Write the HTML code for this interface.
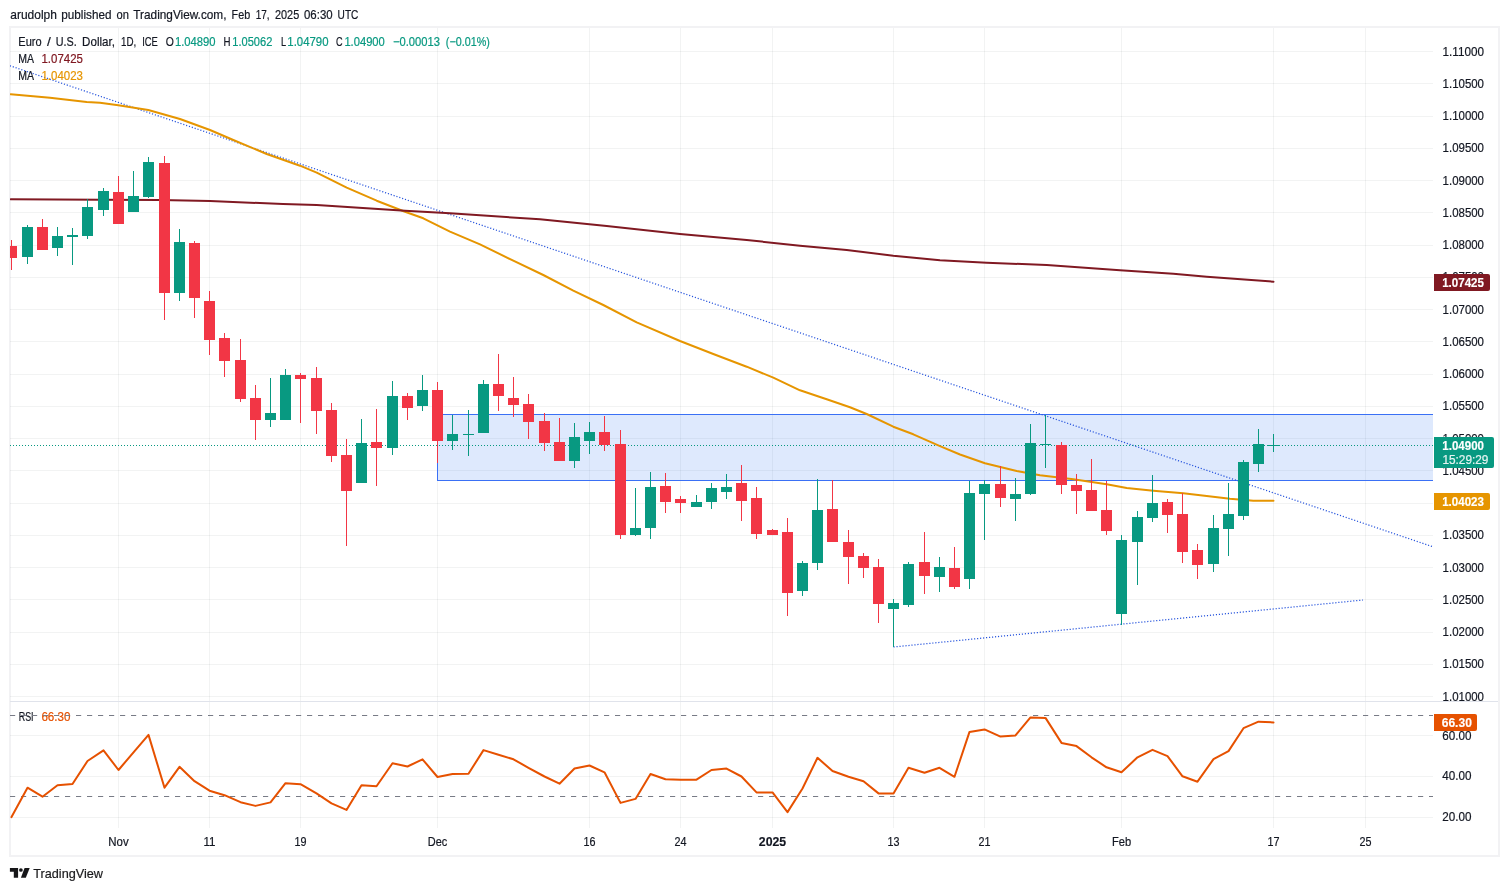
<!DOCTYPE html>
<html lang="en"><head><meta charset="utf-8"><title>EURUSD chart</title>
<style>html,body{margin:0;padding:0;background:#fff;}body{width:1509px;height:891px;overflow:hidden;}svg{display:block;font-family:'Liberation Sans', sans-serif;}</style>
</head><body>
<svg width="1509" height="891" viewBox="0 0 1509 891">
<rect x="0" y="0" width="1509" height="891" fill="#ffffff"/>
<text y="18.7" font-size="12.2" font-weight="normal" stroke-width="0.2"><tspan x="10.3" textLength="46.6" lengthAdjust="spacingAndGlyphs" fill="#131722" stroke="#131722">arudolph</tspan> <tspan x="61.3" textLength="50.2" lengthAdjust="spacingAndGlyphs" fill="#131722" stroke="#131722">published</tspan> <tspan x="116.5" textLength="12.4" lengthAdjust="spacingAndGlyphs" fill="#131722" stroke="#131722">on</tspan> <tspan x="133.3" textLength="93.2" lengthAdjust="spacingAndGlyphs" fill="#131722" stroke="#131722">TradingView.com,</tspan> <tspan x="231.6" textLength="18.6" lengthAdjust="spacingAndGlyphs" fill="#131722" stroke="#131722">Feb</tspan> <tspan x="255.8" textLength="13.8" lengthAdjust="spacingAndGlyphs" fill="#131722" stroke="#131722">17,</tspan> <tspan x="275.0" textLength="24.2" lengthAdjust="spacingAndGlyphs" fill="#131722" stroke="#131722">2025</tspan> <tspan x="304.0" textLength="28.6" lengthAdjust="spacingAndGlyphs" fill="#131722" stroke="#131722">06:30</tspan> <tspan x="337.6" textLength="20.8" lengthAdjust="spacingAndGlyphs" fill="#131722" stroke="#131722">UTC</tspan></text>
<rect x="10" y="27" width="1489" height="829" fill="none" stroke="#f2f2f4" stroke-width="2"/>
<defs>
<clipPath id="cm"><rect x="10" y="28" width="1423" height="673"/></clipPath>
<clipPath id="cr"><rect x="10" y="702" width="1423" height="127"/></clipPath>
</defs>
<g fill="rgba(40,46,50,0.058)" shape-rendering="crispEdges">
<rect x="118" y="28" width="1" height="800"/>
<rect x="209" y="28" width="1" height="800"/>
<rect x="300" y="28" width="1" height="800"/>
<rect x="437" y="28" width="1" height="800"/>
<rect x="589" y="28" width="1" height="800"/>
<rect x="680" y="28" width="1" height="800"/>
<rect x="772" y="28" width="1" height="800"/>
<rect x="893" y="28" width="1" height="800"/>
<rect x="984" y="28" width="1" height="800"/>
<rect x="1121" y="28" width="1" height="800"/>
<rect x="1273" y="28" width="1" height="800"/>
<rect x="1365" y="28" width="1" height="800"/>
<rect x="10" y="51" width="1423" height="1"/>
<rect x="10" y="83" width="1423" height="1"/>
<rect x="10" y="116" width="1423" height="1"/>
<rect x="10" y="148" width="1423" height="1"/>
<rect x="10" y="180" width="1423" height="1"/>
<rect x="10" y="212" width="1423" height="1"/>
<rect x="10" y="245" width="1423" height="1"/>
<rect x="10" y="277" width="1423" height="1"/>
<rect x="10" y="309" width="1423" height="1"/>
<rect x="10" y="341" width="1423" height="1"/>
<rect x="10" y="374" width="1423" height="1"/>
<rect x="10" y="406" width="1423" height="1"/>
<rect x="10" y="438" width="1423" height="1"/>
<rect x="10" y="470" width="1423" height="1"/>
<rect x="10" y="503" width="1423" height="1"/>
<rect x="10" y="535" width="1423" height="1"/>
<rect x="10" y="567" width="1423" height="1"/>
<rect x="10" y="599" width="1423" height="1"/>
<rect x="10" y="632" width="1423" height="1"/>
<rect x="10" y="664" width="1423" height="1"/>
<rect x="10" y="696" width="1423" height="1"/>
<rect x="10" y="735" width="1423" height="1"/>
<rect x="10" y="776" width="1423" height="1"/>
<rect x="10" y="817" width="1423" height="1"/>
</g>
<rect x="10" y="701" width="1488" height="1" fill="#e0e3eb" shape-rendering="crispEdges"/>
<g clip-path="url(#cm)">
<rect x="437.5" y="414.5" width="1010" height="66" fill="rgba(49,121,245,0.16)" stroke="#3a70f5" stroke-width="1"/>
<line x1="-10" y1="59" x2="1433" y2="546.8" stroke="#2452dc" stroke-width="1.25" stroke-dasharray="1.15 1.85"/>
<line x1="893.5" y1="647" x2="1363" y2="600" stroke="#2452dc" stroke-width="1.25" stroke-dasharray="1.15 1.85"/>
<line x1="10" y1="445.5" x2="1433" y2="445.5" stroke="#089981" stroke-width="1" stroke-dasharray="1 2" shape-rendering="crispEdges"/>
<polyline points="10.7,94.3 50.0,97.7 86.7,102.0 100.0,102.7 118.3,105.3 148.3,110.0 180.0,119.0 210.0,130.0 233.3,140.0 266.7,154.0 300.0,165.7 316.7,172.7 346.7,187.7 376.7,200.7 405.0,211.7 423.3,218.3 450.0,231.7 480.0,244.3 513.3,260.7 543.3,275.0 573.3,290.7 603.3,305.0 636.7,322.3 680.0,341.0 713.3,354.0 746.7,366.7 773.3,377.7 800.0,390.3 826.7,399.3 850.0,407.3 866.7,414.0 893.3,426.7 913.3,434.3 940.0,446.2 960.0,454.5 985.0,463.3 1016.7,471.0 1040.0,475.3 1073.3,479.3 1106.7,484.3 1126.7,488.0 1153.3,490.7 1183.3,493.3 1206.7,496.0 1230.0,498.7 1253.3,500.7 1273.5,500.8" fill="none" stroke="#e69500" stroke-width="2" stroke-linejoin="round" stroke-linecap="round"/>
<polyline points="10.7,199.3 100.0,199.7 160.0,200.0 210.0,201.0 283.0,204.0 316.7,205.0 366.7,208.3 405.0,210.7 450.0,213.3 480.0,215.3 540.0,219.3 606.7,226.0 680.0,234.0 746.7,240.0 800.0,245.7 846.7,250.0 893.3,255.7 940.0,260.2 986.7,262.7 1046.7,265.0 1120.0,270.3 1173.3,273.7 1206.7,276.7 1273.5,281.7" fill="none" stroke="#801922" stroke-width="2" stroke-linejoin="round" stroke-linecap="round"/>
<g shape-rendering="crispEdges">
<rect x="11" y="240" width="1" height="30" fill="#f23645"/>
<rect x="6" y="246" width="11" height="12" fill="#f23645"/>
<rect x="27" y="225" width="1" height="39" fill="#089981"/>
<rect x="22" y="227" width="11" height="30" fill="#089981"/>
<rect x="42" y="219" width="1" height="31" fill="#f23645"/>
<rect x="37" y="227" width="11" height="23" fill="#f23645"/>
<rect x="57" y="227" width="1" height="29" fill="#089981"/>
<rect x="52" y="236" width="11" height="12" fill="#089981"/>
<rect x="72" y="228" width="1" height="37" fill="#089981"/>
<rect x="67" y="235" width="11" height="2" fill="#089981"/>
<rect x="87" y="199" width="1" height="40" fill="#089981"/>
<rect x="82" y="207" width="11" height="29" fill="#089981"/>
<rect x="103" y="188" width="1" height="28" fill="#089981"/>
<rect x="98" y="191" width="11" height="19" fill="#089981"/>
<rect x="118" y="176" width="1" height="48" fill="#f23645"/>
<rect x="113" y="192" width="11" height="32" fill="#f23645"/>
<rect x="133" y="171" width="1" height="41" fill="#089981"/>
<rect x="128" y="196" width="11" height="16" fill="#089981"/>
<rect x="148" y="157" width="1" height="41" fill="#089981"/>
<rect x="143" y="162" width="11" height="35" fill="#089981"/>
<rect x="164" y="156" width="1" height="164" fill="#f23645"/>
<rect x="159" y="163" width="11" height="130" fill="#f23645"/>
<rect x="179" y="229" width="1" height="72" fill="#089981"/>
<rect x="174" y="242" width="11" height="51" fill="#089981"/>
<rect x="194" y="241" width="1" height="77" fill="#f23645"/>
<rect x="189" y="243" width="11" height="55" fill="#f23645"/>
<rect x="209" y="291" width="1" height="64" fill="#f23645"/>
<rect x="204" y="301" width="11" height="39" fill="#f23645"/>
<rect x="224" y="333" width="1" height="44" fill="#f23645"/>
<rect x="219" y="338" width="11" height="23" fill="#f23645"/>
<rect x="240" y="339" width="1" height="63" fill="#f23645"/>
<rect x="235" y="360" width="11" height="39" fill="#f23645"/>
<rect x="255" y="385" width="1" height="55" fill="#f23645"/>
<rect x="250" y="398" width="11" height="22" fill="#f23645"/>
<rect x="270" y="378" width="1" height="49" fill="#089981"/>
<rect x="265" y="413" width="11" height="7" fill="#089981"/>
<rect x="285" y="369" width="1" height="51" fill="#089981"/>
<rect x="280" y="375" width="11" height="45" fill="#089981"/>
<rect x="300" y="373" width="1" height="50" fill="#f23645"/>
<rect x="295" y="375" width="11" height="4" fill="#f23645"/>
<rect x="316" y="367" width="1" height="67" fill="#f23645"/>
<rect x="311" y="378" width="11" height="33" fill="#f23645"/>
<rect x="331" y="403" width="1" height="59" fill="#f23645"/>
<rect x="326" y="410" width="11" height="46" fill="#f23645"/>
<rect x="346" y="439" width="1" height="107" fill="#f23645"/>
<rect x="341" y="455" width="11" height="36" fill="#f23645"/>
<rect x="361" y="419" width="1" height="64" fill="#089981"/>
<rect x="356" y="443" width="11" height="40" fill="#089981"/>
<rect x="376" y="409" width="1" height="77" fill="#f23645"/>
<rect x="371" y="442" width="11" height="6" fill="#f23645"/>
<rect x="392" y="381" width="1" height="74" fill="#089981"/>
<rect x="387" y="396" width="11" height="52" fill="#089981"/>
<rect x="407" y="393" width="1" height="27" fill="#f23645"/>
<rect x="402" y="396" width="11" height="12" fill="#f23645"/>
<rect x="422" y="375" width="1" height="36" fill="#089981"/>
<rect x="417" y="390" width="11" height="16" fill="#089981"/>
<rect x="437" y="382" width="1" height="81" fill="#f23645"/>
<rect x="432" y="390" width="11" height="51" fill="#f23645"/>
<rect x="452" y="415" width="1" height="35" fill="#089981"/>
<rect x="447" y="434" width="11" height="7" fill="#089981"/>
<rect x="468" y="410" width="1" height="46" fill="#089981"/>
<rect x="463" y="434" width="11" height="1" fill="#089981"/>
<rect x="483" y="380" width="1" height="53" fill="#089981"/>
<rect x="478" y="384" width="11" height="49" fill="#089981"/>
<rect x="498" y="354" width="1" height="57" fill="#f23645"/>
<rect x="493" y="384" width="11" height="12" fill="#f23645"/>
<rect x="513" y="377" width="1" height="40" fill="#f23645"/>
<rect x="508" y="398" width="11" height="7" fill="#f23645"/>
<rect x="528" y="394" width="1" height="45" fill="#f23645"/>
<rect x="523" y="404" width="11" height="18" fill="#f23645"/>
<rect x="544" y="413" width="1" height="38" fill="#f23645"/>
<rect x="539" y="421" width="11" height="22" fill="#f23645"/>
<rect x="559" y="418" width="1" height="43" fill="#f23645"/>
<rect x="554" y="442" width="11" height="19" fill="#f23645"/>
<rect x="574" y="423" width="1" height="45" fill="#089981"/>
<rect x="569" y="437" width="11" height="24" fill="#089981"/>
<rect x="589" y="422" width="1" height="32" fill="#089981"/>
<rect x="584" y="432" width="11" height="9" fill="#089981"/>
<rect x="604" y="416" width="1" height="35" fill="#f23645"/>
<rect x="599" y="432" width="11" height="13" fill="#f23645"/>
<rect x="620" y="430" width="1" height="109" fill="#f23645"/>
<rect x="615" y="444" width="11" height="91" fill="#f23645"/>
<rect x="635" y="488" width="1" height="48" fill="#089981"/>
<rect x="630" y="528" width="11" height="7" fill="#089981"/>
<rect x="650" y="472" width="1" height="67" fill="#089981"/>
<rect x="645" y="487" width="11" height="41" fill="#089981"/>
<rect x="665" y="473" width="1" height="40" fill="#f23645"/>
<rect x="660" y="486" width="11" height="16" fill="#f23645"/>
<rect x="680" y="496" width="1" height="17" fill="#f23645"/>
<rect x="675" y="499" width="11" height="4" fill="#f23645"/>
<rect x="696" y="495" width="1" height="12" fill="#089981"/>
<rect x="691" y="502" width="11" height="5" fill="#089981"/>
<rect x="711" y="483" width="1" height="26" fill="#089981"/>
<rect x="706" y="488" width="11" height="14" fill="#089981"/>
<rect x="726" y="474" width="1" height="25" fill="#089981"/>
<rect x="721" y="487" width="11" height="5" fill="#089981"/>
<rect x="741" y="465" width="1" height="56" fill="#f23645"/>
<rect x="736" y="483" width="11" height="18" fill="#f23645"/>
<rect x="756" y="487" width="1" height="52" fill="#f23645"/>
<rect x="751" y="498" width="11" height="36" fill="#f23645"/>
<rect x="772" y="529" width="1" height="6" fill="#f23645"/>
<rect x="767" y="530" width="11" height="5" fill="#f23645"/>
<rect x="787" y="518" width="1" height="98" fill="#f23645"/>
<rect x="782" y="532" width="11" height="61" fill="#f23645"/>
<rect x="802" y="561" width="1" height="35" fill="#089981"/>
<rect x="797" y="563" width="11" height="28" fill="#089981"/>
<rect x="817" y="479" width="1" height="91" fill="#089981"/>
<rect x="812" y="510" width="11" height="53" fill="#089981"/>
<rect x="832" y="480" width="1" height="62" fill="#f23645"/>
<rect x="827" y="509" width="11" height="33" fill="#f23645"/>
<rect x="848" y="530" width="1" height="54" fill="#f23645"/>
<rect x="843" y="542" width="11" height="15" fill="#f23645"/>
<rect x="863" y="553" width="1" height="25" fill="#f23645"/>
<rect x="858" y="556" width="11" height="12" fill="#f23645"/>
<rect x="878" y="559" width="1" height="64" fill="#f23645"/>
<rect x="873" y="567" width="11" height="37" fill="#f23645"/>
<rect x="893" y="599" width="1" height="48" fill="#089981"/>
<rect x="888" y="603" width="11" height="6" fill="#089981"/>
<rect x="908" y="562" width="1" height="45" fill="#089981"/>
<rect x="903" y="564" width="11" height="41" fill="#089981"/>
<rect x="924" y="532" width="1" height="62" fill="#f23645"/>
<rect x="919" y="562" width="11" height="14" fill="#f23645"/>
<rect x="939" y="557" width="1" height="35" fill="#089981"/>
<rect x="934" y="567" width="11" height="10" fill="#089981"/>
<rect x="954" y="547" width="1" height="42" fill="#f23645"/>
<rect x="949" y="568" width="11" height="19" fill="#f23645"/>
<rect x="969" y="481" width="1" height="108" fill="#089981"/>
<rect x="964" y="493" width="11" height="86" fill="#089981"/>
<rect x="984" y="480" width="1" height="60" fill="#089981"/>
<rect x="979" y="484" width="11" height="10" fill="#089981"/>
<rect x="1000" y="466" width="1" height="41" fill="#f23645"/>
<rect x="995" y="484" width="11" height="14" fill="#f23645"/>
<rect x="1015" y="478" width="1" height="43" fill="#089981"/>
<rect x="1010" y="494" width="11" height="5" fill="#089981"/>
<rect x="1030" y="424" width="1" height="71" fill="#089981"/>
<rect x="1025" y="443" width="11" height="51" fill="#089981"/>
<rect x="1045" y="415" width="1" height="53" fill="#089981"/>
<rect x="1040" y="444" width="11" height="1" fill="#089981"/>
<rect x="1061" y="442" width="1" height="52" fill="#f23645"/>
<rect x="1056" y="445" width="11" height="40" fill="#f23645"/>
<rect x="1076" y="474" width="1" height="40" fill="#f23645"/>
<rect x="1071" y="485" width="11" height="6" fill="#f23645"/>
<rect x="1091" y="459" width="1" height="52" fill="#f23645"/>
<rect x="1086" y="490" width="11" height="21" fill="#f23645"/>
<rect x="1106" y="481" width="1" height="54" fill="#f23645"/>
<rect x="1101" y="510" width="11" height="21" fill="#f23645"/>
<rect x="1121" y="535" width="1" height="90" fill="#089981"/>
<rect x="1116" y="540" width="11" height="74" fill="#089981"/>
<rect x="1137" y="511" width="1" height="74" fill="#089981"/>
<rect x="1132" y="517" width="11" height="25" fill="#089981"/>
<rect x="1152" y="475" width="1" height="47" fill="#089981"/>
<rect x="1147" y="503" width="11" height="15" fill="#089981"/>
<rect x="1167" y="499" width="1" height="34" fill="#f23645"/>
<rect x="1162" y="502" width="11" height="13" fill="#f23645"/>
<rect x="1182" y="493" width="1" height="70" fill="#f23645"/>
<rect x="1177" y="514" width="11" height="38" fill="#f23645"/>
<rect x="1197" y="544" width="1" height="35" fill="#f23645"/>
<rect x="1192" y="550" width="11" height="15" fill="#f23645"/>
<rect x="1213" y="515" width="1" height="57" fill="#089981"/>
<rect x="1208" y="528" width="11" height="36" fill="#089981"/>
<rect x="1228" y="483" width="1" height="73" fill="#089981"/>
<rect x="1223" y="514" width="11" height="15" fill="#089981"/>
<rect x="1243" y="460" width="1" height="60" fill="#089981"/>
<rect x="1238" y="462" width="11" height="54" fill="#089981"/>
<rect x="1258" y="429" width="1" height="43" fill="#089981"/>
<rect x="1253" y="444" width="11" height="20" fill="#089981"/>
<rect x="1273" y="434" width="1" height="18" fill="#089981"/>
<rect x="1268" y="445" width="11" height="1" fill="#089981"/>
</g>
</g>
<text y="45.9" font-size="12.2" font-weight="normal" stroke-width="0.2"><tspan x="18.3" textLength="23.3" lengthAdjust="spacingAndGlyphs" fill="#131722" stroke="#131722">Euro</tspan> <tspan x="47.1" textLength="3.8" lengthAdjust="spacingAndGlyphs" fill="#131722" stroke="#131722">/</tspan> <tspan x="55.7" textLength="21.0" lengthAdjust="spacingAndGlyphs" fill="#131722" stroke="#131722">U.S.</tspan> <tspan x="82.1" textLength="32.8" lengthAdjust="spacingAndGlyphs" fill="#131722" stroke="#131722">Dollar,</tspan> <tspan x="121.0" textLength="15.2" lengthAdjust="spacingAndGlyphs" fill="#131722" stroke="#131722">1D,</tspan> <tspan x="142.2" textLength="15.7" lengthAdjust="spacingAndGlyphs" fill="#131722" stroke="#131722">ICE</tspan> <tspan x="165.8" textLength="8.1" lengthAdjust="spacingAndGlyphs" fill="#131722" stroke="#131722">O</tspan> <tspan x="175.0" textLength="40.6" lengthAdjust="spacingAndGlyphs" fill="#089981" stroke="#089981">1.04890</tspan> <tspan x="223.6" textLength="7.0" lengthAdjust="spacingAndGlyphs" fill="#131722" stroke="#131722">H</tspan> <tspan x="232.3" textLength="40.0" lengthAdjust="spacingAndGlyphs" fill="#089981" stroke="#089981">1.05062</tspan> <tspan x="281.0" textLength="4.8" lengthAdjust="spacingAndGlyphs" fill="#131722" stroke="#131722">L</tspan> <tspan x="287.3" textLength="41.2" lengthAdjust="spacingAndGlyphs" fill="#089981" stroke="#089981">1.04790</tspan> <tspan x="336.0" textLength="6.6" lengthAdjust="spacingAndGlyphs" fill="#131722" stroke="#131722">C</tspan> <tspan x="344.4" textLength="40.4" lengthAdjust="spacingAndGlyphs" fill="#089981" stroke="#089981">1.04900</tspan> <tspan x="392.9" textLength="47.1" lengthAdjust="spacingAndGlyphs" fill="#089981" stroke="#089981">−0.00013</tspan> <tspan x="445.8" textLength="44.0" lengthAdjust="spacingAndGlyphs" fill="#089981" stroke="#089981">(−0.01%)</tspan></text>
<text y="62.7" font-size="12.2" font-weight="normal" stroke-width="0.2"><tspan x="18.3" textLength="15.2" lengthAdjust="spacingAndGlyphs" fill="#131722" stroke="#131722">MA</tspan> <tspan x="41.5" textLength="41.4" lengthAdjust="spacingAndGlyphs" fill="#801922" stroke="#801922">1.07425</tspan></text>
<text y="79.5" font-size="12.2" font-weight="normal" stroke-width="0.2"><tspan x="18.3" textLength="15.2" lengthAdjust="spacingAndGlyphs" fill="#131722" stroke="#131722">MA</tspan> <tspan x="41.5" textLength="41.4" lengthAdjust="spacingAndGlyphs" fill="#e69500" stroke="#e69500">1.04023</tspan></text>
<g clip-path="url(#cr)">
<text x="18.7" y="721.3" font-size="12" fill="#131722" font-weight="normal" text-anchor="start" textLength="14.9" lengthAdjust="spacingAndGlyphs" stroke="#131722" stroke-width="0.2">RSI</text>
<text x="41.4" y="721.3" font-size="12" fill="#e65100" font-weight="normal" text-anchor="start" textLength="29.1" lengthAdjust="spacingAndGlyphs" stroke="#e65100" stroke-width="0.2">66.30</text>
<line x1="10" y1="715.5" x2="1433" y2="715.5" stroke="#787b86" stroke-width="1" stroke-dasharray="5.2 5.8"/>
<line x1="10" y1="796.5" x2="1433" y2="796.5" stroke="#787b86" stroke-width="1" stroke-dasharray="5.2 5.8"/>
<polyline points="11.5,817.1 27.5,787.7 42.5,796.7 57.5,785.2 72.5,784.0 87.5,761.0 103.5,750.3 118.5,770.0 133.5,752.3 148.5,734.9 164.5,787.7 179.5,766.8 194.5,781.2 209.5,790.7 224.5,795.2 240.5,802.2 255.5,805.9 270.5,802.4 285.5,783.2 300.5,784.2 316.5,793.4 331.5,803.4 346.5,809.9 361.5,785.2 376.5,786.2 392.5,763.3 407.5,766.5 422.5,759.3 437.5,777.0 452.5,774.0 468.5,773.8 483.5,750.1 498.5,754.8 513.5,759.3 528.5,767.8 544.5,776.5 559.5,783.7 574.5,768.5 589.5,765.5 604.5,772.3 620.5,802.9 635.5,798.9 650.5,774.0 665.5,779.2 680.5,779.7 696.5,779.7 711.5,770.0 726.5,768.6 741.5,776.5 756.5,792.4 772.5,792.4 787.5,812.1 802.5,788.5 817.5,757.8 832.5,771.0 848.5,776.8 863.5,781.2 878.5,793.4 893.5,793.4 908.5,767.8 924.5,772.8 939.5,767.8 954.5,776.8 969.5,731.9 984.5,729.4 1000.5,736.6 1015.5,735.4 1030.5,717.4 1045.5,717.9 1061.5,742.9 1076.5,746.1 1091.5,757.3 1106.5,767.3 1121.5,772.3 1137.5,757.3 1152.5,749.8 1167.5,756.1 1182.5,776.3 1197.5,781.7 1213.5,759.1 1228.5,751.1 1243.5,728.2 1258.5,721.7 1273.5,722.4" fill="none" stroke="#e65100" stroke-width="2" stroke-linejoin="round" stroke-linecap="round"/>
</g>
<text x="1442.6" y="55.9" font-size="12.5" fill="#131722" font-weight="normal" text-anchor="start" textLength="41.4" lengthAdjust="spacingAndGlyphs" stroke="#131722" stroke-width="0.2">1.11000</text>
<text x="1442.6" y="87.9" font-size="12.5" fill="#131722" font-weight="normal" text-anchor="start" textLength="41.4" lengthAdjust="spacingAndGlyphs" stroke="#131722" stroke-width="0.2">1.10500</text>
<text x="1442.6" y="119.9" font-size="12.5" fill="#131722" font-weight="normal" text-anchor="start" textLength="41.4" lengthAdjust="spacingAndGlyphs" stroke="#131722" stroke-width="0.2">1.10000</text>
<text x="1442.6" y="151.9" font-size="12.5" fill="#131722" font-weight="normal" text-anchor="start" textLength="41.4" lengthAdjust="spacingAndGlyphs" stroke="#131722" stroke-width="0.2">1.09500</text>
<text x="1442.6" y="184.9" font-size="12.5" fill="#131722" font-weight="normal" text-anchor="start" textLength="41.4" lengthAdjust="spacingAndGlyphs" stroke="#131722" stroke-width="0.2">1.09000</text>
<text x="1442.6" y="216.9" font-size="12.5" fill="#131722" font-weight="normal" text-anchor="start" textLength="41.4" lengthAdjust="spacingAndGlyphs" stroke="#131722" stroke-width="0.2">1.08500</text>
<text x="1442.6" y="248.9" font-size="12.5" fill="#131722" font-weight="normal" text-anchor="start" textLength="41.4" lengthAdjust="spacingAndGlyphs" stroke="#131722" stroke-width="0.2">1.08000</text>
<text x="1442.6" y="280.9" font-size="12.5" fill="#131722" font-weight="normal" text-anchor="start" textLength="41.4" lengthAdjust="spacingAndGlyphs" stroke="#131722" stroke-width="0.2">1.07500</text>
<text x="1442.6" y="313.9" font-size="12.5" fill="#131722" font-weight="normal" text-anchor="start" textLength="41.4" lengthAdjust="spacingAndGlyphs" stroke="#131722" stroke-width="0.2">1.07000</text>
<text x="1442.6" y="345.9" font-size="12.5" fill="#131722" font-weight="normal" text-anchor="start" textLength="41.4" lengthAdjust="spacingAndGlyphs" stroke="#131722" stroke-width="0.2">1.06500</text>
<text x="1442.6" y="377.9" font-size="12.5" fill="#131722" font-weight="normal" text-anchor="start" textLength="41.4" lengthAdjust="spacingAndGlyphs" stroke="#131722" stroke-width="0.2">1.06000</text>
<text x="1442.6" y="409.9" font-size="12.5" fill="#131722" font-weight="normal" text-anchor="start" textLength="41.4" lengthAdjust="spacingAndGlyphs" stroke="#131722" stroke-width="0.2">1.05500</text>
<text x="1442.6" y="442.9" font-size="12.5" fill="#131722" font-weight="normal" text-anchor="start" textLength="41.4" lengthAdjust="spacingAndGlyphs" stroke="#131722" stroke-width="0.2">1.05000</text>
<text x="1442.6" y="474.9" font-size="12.5" fill="#131722" font-weight="normal" text-anchor="start" textLength="41.4" lengthAdjust="spacingAndGlyphs" stroke="#131722" stroke-width="0.2">1.04500</text>
<text x="1442.6" y="506.9" font-size="12.5" fill="#131722" font-weight="normal" text-anchor="start" textLength="41.4" lengthAdjust="spacingAndGlyphs" stroke="#131722" stroke-width="0.2">1.04000</text>
<text x="1442.6" y="538.9" font-size="12.5" fill="#131722" font-weight="normal" text-anchor="start" textLength="41.4" lengthAdjust="spacingAndGlyphs" stroke="#131722" stroke-width="0.2">1.03500</text>
<text x="1442.6" y="571.9" font-size="12.5" fill="#131722" font-weight="normal" text-anchor="start" textLength="41.4" lengthAdjust="spacingAndGlyphs" stroke="#131722" stroke-width="0.2">1.03000</text>
<text x="1442.6" y="603.9" font-size="12.5" fill="#131722" font-weight="normal" text-anchor="start" textLength="41.4" lengthAdjust="spacingAndGlyphs" stroke="#131722" stroke-width="0.2">1.02500</text>
<text x="1442.6" y="635.9" font-size="12.5" fill="#131722" font-weight="normal" text-anchor="start" textLength="41.4" lengthAdjust="spacingAndGlyphs" stroke="#131722" stroke-width="0.2">1.02000</text>
<text x="1442.6" y="667.9" font-size="12.5" fill="#131722" font-weight="normal" text-anchor="start" textLength="41.4" lengthAdjust="spacingAndGlyphs" stroke="#131722" stroke-width="0.2">1.01500</text>
<text x="1442.6" y="700.9" font-size="12.5" fill="#131722" font-weight="normal" text-anchor="start" textLength="41.4" lengthAdjust="spacingAndGlyphs" stroke="#131722" stroke-width="0.2">1.01000</text>
<text x="1442.3" y="740.0" font-size="12.5" fill="#131722" font-weight="normal" text-anchor="start" textLength="29.2" lengthAdjust="spacingAndGlyphs" stroke="#131722" stroke-width="0.2">60.00</text>
<text x="1442.3" y="779.8" font-size="12.5" fill="#131722" font-weight="normal" text-anchor="start" textLength="29.2" lengthAdjust="spacingAndGlyphs" stroke="#131722" stroke-width="0.2">40.00</text>
<text x="1442.3" y="821.0" font-size="12.5" fill="#131722" font-weight="normal" text-anchor="start" textLength="29.2" lengthAdjust="spacingAndGlyphs" stroke="#131722" stroke-width="0.2">20.00</text>
<path d="M1434 274H1488a2 2 0 0 1 2 2V289a2 2 0 0 1 -2 2H1434Z" fill="#801922"/>
<text x="1442.2" y="287.0" font-size="12.4" fill="#ffffff" font-weight="bold" text-anchor="start" textLength="41.8" lengthAdjust="spacingAndGlyphs" stroke="#ffffff" stroke-width="0.15">1.07425</text>
<path d="M1434 437H1492a2 2 0 0 1 2 2V466a2 2 0 0 1 -2 2H1434Z" fill="#089981"/>
<text x="1442.3" y="449.9" font-size="12.4" fill="#ffffff" font-weight="bold" text-anchor="start" textLength="41.7" lengthAdjust="spacingAndGlyphs" stroke="#ffffff" stroke-width="0.15">1.04900</text>
<text x="1442.4" y="464.0" font-size="12.4" fill="#ffffff" font-weight="normal" text-anchor="start" textLength="46.0" lengthAdjust="spacingAndGlyphs" fill-opacity="0.85" stroke="#ffffff" stroke-width="0.2">15:29:29</text>
<path d="M1434 493H1488a2 2 0 0 1 2 2V508a2 2 0 0 1 -2 2H1434Z" fill="#e69500"/>
<text x="1442.2" y="506.0" font-size="12.4" fill="#ffffff" font-weight="bold" text-anchor="start" textLength="41.8" lengthAdjust="spacingAndGlyphs" stroke="#ffffff" stroke-width="0.15">1.04023</text>
<path d="M1434 714H1475a2 2 0 0 1 2 2V729a2 2 0 0 1 -2 2H1434Z" fill="#e65100"/>
<text x="1441.7" y="727.0" font-size="12.4" fill="#ffffff" font-weight="bold" text-anchor="start" textLength="30.2" lengthAdjust="spacingAndGlyphs" stroke="#ffffff" stroke-width="0.15">66.30</text>
<text x="108.3" y="845.9" font-size="12.2" fill="#131722" font-weight="normal" text-anchor="start" textLength="20.4" lengthAdjust="spacingAndGlyphs" stroke="#131722" stroke-width="0.2">Nov</text>
<text x="203.5" y="845.9" font-size="12.2" fill="#131722" font-weight="normal" text-anchor="start" textLength="12.0" lengthAdjust="spacingAndGlyphs" stroke="#131722" stroke-width="0.2">11</text>
<text x="294.5" y="845.9" font-size="12.2" fill="#131722" font-weight="normal" text-anchor="start" textLength="12.0" lengthAdjust="spacingAndGlyphs" stroke="#131722" stroke-width="0.2">19</text>
<text x="427.75" y="845.9" font-size="12.2" fill="#131722" font-weight="normal" text-anchor="start" textLength="19.5" lengthAdjust="spacingAndGlyphs" stroke="#131722" stroke-width="0.2">Dec</text>
<text x="583.5" y="845.9" font-size="12.2" fill="#131722" font-weight="normal" text-anchor="start" textLength="12.0" lengthAdjust="spacingAndGlyphs" stroke="#131722" stroke-width="0.2">16</text>
<text x="674.5" y="845.9" font-size="12.2" fill="#131722" font-weight="normal" text-anchor="start" textLength="12.0" lengthAdjust="spacingAndGlyphs" stroke="#131722" stroke-width="0.2">24</text>
<text x="758.8" y="845.9" font-size="12.2" fill="#131722" font-weight="bold" text-anchor="start" textLength="27.4" lengthAdjust="spacingAndGlyphs" stroke="#131722" stroke-width="0.15">2025</text>
<text x="887.5" y="845.9" font-size="12.2" fill="#131722" font-weight="normal" text-anchor="start" textLength="12.0" lengthAdjust="spacingAndGlyphs" stroke="#131722" stroke-width="0.2">13</text>
<text x="978.5" y="845.9" font-size="12.2" fill="#131722" font-weight="normal" text-anchor="start" textLength="12.0" lengthAdjust="spacingAndGlyphs" stroke="#131722" stroke-width="0.2">21</text>
<text x="1111.9" y="845.9" font-size="12.2" fill="#131722" font-weight="normal" text-anchor="start" textLength="19.2" lengthAdjust="spacingAndGlyphs" stroke="#131722" stroke-width="0.2">Feb</text>
<text x="1267.5" y="845.9" font-size="12.2" fill="#131722" font-weight="normal" text-anchor="start" textLength="12.0" lengthAdjust="spacingAndGlyphs" stroke="#131722" stroke-width="0.2">17</text>
<text x="1359.5" y="845.9" font-size="12.2" fill="#131722" font-weight="normal" text-anchor="start" textLength="12.0" lengthAdjust="spacingAndGlyphs" stroke="#131722" stroke-width="0.2">25</text>
<g fill="#161618">
<path d="M9.9 868.1H18.1V877.8H13.8V871.7H9.9Z"/>
<circle cx="20.9" cy="870" r="1.85"/>
<path d="M24.6 868.1H29.7L25.8 877.8H20.9Z"/>
</g>
<text x="33.3" y="877.8" font-size="13" fill="#1a1a1c" font-weight="normal" text-anchor="start" textLength="69.7" lengthAdjust="spacingAndGlyphs" stroke="#1a1a1c" stroke-width="0.2">TradingView</text>
</svg>
</body></html>
